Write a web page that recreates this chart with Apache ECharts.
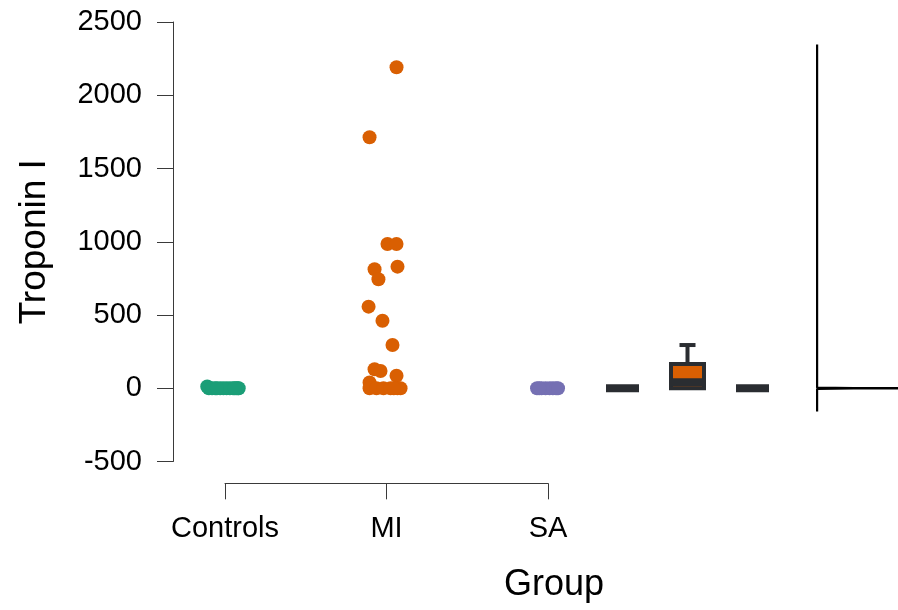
<!DOCTYPE html>
<html>
<head>
<meta charset="utf-8">
<title>Troponin I by group</title>
<script src="https://cdn.jsdelivr.net/npm/echarts@6.0.0/dist/echarts.min.js"></script>
<style>
  html, body { margin: 0; padding: 0; background: #fff; }
  #chart { width: 898px; height: 610px; }
</style>
</head>
<body>
<div id="chart"></div>
<script>
const groups = ['Controls', 'MI', 'SA'];
const groupColors = ['#1b9e77', '#d95f02', '#7570b3'];

// raw points, jitter = horizontal offset in group units
const controlsValues = [0, 0.01, 0.02, 0, 0.03, 0.01, 12, 0.02, 0, 0.04, 0.01, 0.02, 0, 0.03];
const controlsJitter = [-0.1, -0.06, -0.03, 0.01, 0.05, 0.08, -0.11, -0.08, 0.03, 0.07, -0.01, 0.085, -0.05, 0.06];
const miValues = [2191, 1713, 985, 985, 830, 812, 744, 557, 461, 295, 130, 118, 85, 40, 0, 0, 0, 0, 0, 0, 0];
const miJitter = [0.062, -0.105, 0.006, 0.062, 0.068, -0.074, -0.05, -0.111, -0.025, 0.037, -0.074, -0.037, 0.062, -0.105, -0.105, -0.062, -0.019, 0.025, 0.068, 0.087, 0.045];
const saValues = [0, 0.1, 0, 0.2, 0.1, 0, 0.3, 0.1];
const saJitter = [-0.068, -0.04, -0.015, 0.01, 0.03, 0.05, 0.062, -0.055];

// box stats: min, Q1, median, Q3, max (whisker)
const boxStats = [
  [0, 0, 0, 0, 0],
  [0, 0, 41, 166, 295],
  [0, 0, 0, 0, 0]
];

// density curve (rotated), value vs density
const densityY = [-158, -4, -1.5, 0, 1.5, 4, 2346];
const densityX = [0, 0, 0.45, 2, 0.45, 0, 0];

const yMin = -500, yMax = 2500, yStep = 500;
const xMin = 0.678, xMax = 5.167;

const font = 'Liberation Sans, Arial, sans-serif';
const axisColor = '#3a3a3a';
const dark = '#2a2d31';

const chart = echarts.init(document.getElementById('chart'), null, {renderer: 'canvas'});

function jittered(values, jitter, gi) {
  return values.map((v, k) => [gi + 1 + jitter[k], v]);
}

function renderBox(params, api) {
  const i = api.value(0);
  const lo = api.value(1), q1 = api.value(2), med = api.value(3), q3 = api.value(4), hi = api.value(5);
  const cx = api.coord([i, 0])[0];
  const y = v => api.coord([i, v])[1];
  const half = 16.5, cap = 8;
  const children = [];
  if (hi > q3) {
    children.push({type: 'line', shape: {x1: cx, y1: y(hi), x2: cx, y2: y(q3)}, style: {stroke: dark, lineWidth: 4}});
    children.push({type: 'line', shape: {x1: cx - cap, y1: y(hi), x2: cx + cap, y2: y(hi)}, style: {stroke: dark, lineWidth: 4}});
  }
  if (lo < q1) {
    children.push({type: 'line', shape: {x1: cx, y1: y(lo), x2: cx, y2: y(q1)}, style: {stroke: dark, lineWidth: 4}});
  }
  children.push({
    type: 'rect',
    shape: {x: cx - half, y: y(q3), width: 2 * half, height: y(q1) - y(q3)},
    style: {fill: groupColors[i], stroke: dark, lineWidth: 4}
  });
  children.push({type: 'line', shape: {x1: cx - half, y1: y(med), x2: cx + half, y2: y(med)}, style: {stroke: dark, lineWidth: 8}});
  return {type: 'group', children};
}

const hiddenY = {type: 'value', min: yMin, max: yMax, interval: yStep, show: false};

chart.setOption({
  animation: false,
  backgroundColor: '#fff',
  title: {
    text: 'Group',
    left: 504,
    top: 567,
    padding: 0,
    textStyle: {fontSize: 36, fontWeight: 'normal', color: '#000', fontFamily: font}
  },
  grid: [
    {left: 173, top: 22, height: 439.5, right: 0},      // points + y axis
    {left: 225, top: 482.5, height: 1, width: 323},     // group axis
    {left: 807, top: 22, height: 439.5, right: 0},      // density
    {left: 590, top: 22, height: 439.5, width: 195}     // boxes
  ],
  xAxis: [
    {gridIndex: 0, type: 'value', min: xMin, max: xMax, show: false},
    {
      gridIndex: 1, type: 'category', data: groups, boundaryGap: false,
      axisLine: {lineStyle: {color: axisColor, width: 1}},
      axisTick: {length: 16, lineStyle: {color: axisColor}},
      axisLabel: {fontSize: 29, color: '#000', fontFamily: font, margin: 31, interval: 0}
    },
    {gridIndex: 2, type: 'value', min: -0.125, max: 1, show: false},
    {gridIndex: 3, type: 'category', data: groups, show: false}
  ],
  yAxis: [
    {
      gridIndex: 0, type: 'value', min: yMin, max: yMax, interval: yStep,
      name: 'Troponin I', nameLocation: 'middle', nameGap: 120, nameRotate: 90,
      nameTextStyle: {fontSize: 37, color: '#000', fontFamily: font},
      axisLine: {show: true, lineStyle: {color: axisColor, width: 1}},
      axisTick: {show: true, length: 16, lineStyle: {color: axisColor}},
      axisLabel: {fontSize: 29, color: '#000', fontFamily: font, margin: 31, formatter: v => String(v)},
      splitLine: {show: false}
    },
    Object.assign({gridIndex: 1}, hiddenY),
    Object.assign({gridIndex: 2}, hiddenY),
    Object.assign({gridIndex: 3}, hiddenY)
  ],
  series: [
    {
      type: 'custom', xAxisIndex: 3, yAxisIndex: 3,
      renderItem: renderBox, clip: false,
      encode: {x: 0, y: [1, 2, 3, 4, 5]},
      data: boxStats.map((s, i) => [i].concat(s))
    },
    {
      type: 'line', xAxisIndex: 2, yAxisIndex: 2,
      data: densityX.map((d, k) => [d, densityY[k]]),
      showSymbol: false, clip: true,
      lineStyle: {color: '#000', width: 2.2}
    },
    {
      type: 'scatter', xAxisIndex: 0, yAxisIndex: 0, symbolSize: 14,
      itemStyle: {color: groupColors[0], opacity: 1},
      data: jittered(controlsValues, controlsJitter, 0)
    },
    {
      type: 'scatter', xAxisIndex: 0, yAxisIndex: 0, symbolSize: 14,
      itemStyle: {color: groupColors[1], opacity: 1},
      data: jittered(miValues, miJitter, 1)
    },
    {
      type: 'scatter', xAxisIndex: 0, yAxisIndex: 0, symbolSize: 14,
      itemStyle: {color: groupColors[2], opacity: 1},
      data: jittered(saValues, saJitter, 2)
    }
  ]
});
</script>
</body>
</html>
